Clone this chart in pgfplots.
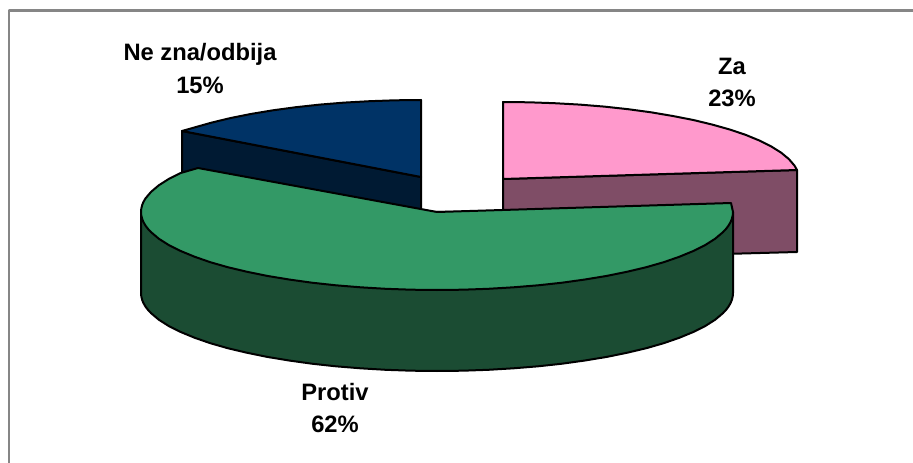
\documentclass[border=0pt]{standalone}
\usepackage{pgfplots}
\pgfplotsset{compat=1.18}
\usepackage{fontspec}
\setmainfont{Liberation Sans}
\definecolor{pinktop}{HTML}{FF99CC}
\definecolor{pinkside}{HTML}{7F4D66}
\definecolor{bluetop}{HTML}{003366}
\definecolor{blueside}{HTML}{001A33}
\definecolor{greentop}{HTML}{339966}
\definecolor{greenside}{HTML}{1B4C33}
\tikzset{lbl/.style={font=\fontsize{17.8}{20}\selectfont\bfseries, align=center, anchor=center, text=black}}
\begin{document}
\begin{tikzpicture}
\useasboundingbox (0,0) rectangle (684.75pt,347.25pt);
\begin{axis}[
  at={(0,0)}, anchor=south west,
  scale only axis, width=684.75pt, height=347.25pt,
  xmin=0, xmax=913, ymin=0, ymax=463, y dir=reverse,
  hide axis, clip=true,
  every axis plot/.append style={draw=black, line width=1.5pt, line join=round}
]
% frame
\addplot[draw=gray!95, line width=1.9pt] coordinates {(9,463) (9,10.5) (913,10.5)};
% Za: side and top
\addplot[fill=pinkside] coordinates {(503,179) (797,170) (797,252) (503,260)} -- cycle;
\addplot[fill=pinktop] coordinates {(503,179) (503,102) (528.8,102.3) (554.4,103.2) (579.6,104.6) (604.2,106.6) (628.1,109.2) (651,112.3) (672.8,116) (693.3,120) (712.3,124.6) (729.7,129.5) (745.5,134.8) (759.3,140.5) (771.3,146.5) (781.2,152.7) (788.9,159.1) (794.5,165.6) (797,170)} -- cycle;
% Ne zna/odbija: side and top
\addplot[fill=blueside] coordinates {(182,131) (421,177) (421,258) (182,212)} -- cycle;
\addplot[fill=bluetop] coordinates {(421,177) (421,100) (395.2,100.3) (369.6,101.2) (344.4,102.6) (319.8,104.6) (295.9,107.2) (273,110.3) (251.2,113.9) (230.7,118) (211.7,122.6) (194.3,127.5) (182,131)} -- cycle;
% Protiv: side and top
\addplot[fill=greenside] coordinates {(141,212) (141,293) (141.3,296.4) (142.1,299.8) (143.5,303.2) (145.5,306.6) (148,309.9) (151.1,313.2) (158.8,319.7) (168.7,326) (180.7,332) (194.5,337.7) (210.3,343.2) (227.7,348.2) (246.7,352.7) (267.2,356.9) (289,360.5) (311.9,363.7) (335.8,366.3) (360.4,368.3) (385.6,369.8) (411.2,370.7) (437,371) (462.8,370.7) (488.4,369.8) (513.6,368.3) (538.2,366.3) (562.1,363.7) (585,360.5) (606.8,356.9) (627.3,352.7) (646.3,348.2) (663.7,343.2) (679.5,337.7) (693.3,332) (705.3,326) (715.2,319.7) (722.9,313.2) (726,309.9) (728.5,306.6) (730.5,303.2) (731.9,299.8) (732.7,296.4) (733,293) (733,212)} -- cycle;
\addplot[fill=greentop] coordinates {(437,212) (198,168) (180.7,173) (168.7,179) (158.8,185.3) (151.1,191.8) (145.5,198.4) (143.5,201.8) (142.1,205.2) (141.3,208.6) (141,212) (141.3,215.4) (142.1,218.8) (143.5,222.2) (145.5,225.6) (148,228.9) (151.1,232.2) (158.8,238.7) (168.7,245) (180.7,251) (194.5,256.7) (210.3,262.2) (227.7,267.2) (246.7,271.7) (267.2,275.9) (289,279.5) (311.9,282.7) (335.8,285.3) (360.4,287.3) (385.6,288.8) (411.2,289.7) (437,290) (462.8,289.7) (488.4,288.8) (513.6,287.3) (538.2,285.3) (562.1,282.7) (585,279.5) (606.8,275.9) (627.3,271.7) (646.3,267.2) (663.7,262.2) (679.5,256.7) (693.3,251) (705.3,245) (715.2,238.7) (722.9,232.2) (726,228.9) (728.5,225.6) (730.5,222.2) (731.9,218.8) (732.7,215.4) (733,212) (731,203)} -- cycle;
% labels
\node[lbl] at (axis cs:200,54) {Ne zna/odbija};
\node[lbl] at (axis cs:200,85) {15\%};
\node[lbl] at (axis cs:732,66) {Za};
\node[lbl] at (axis cs:732,98) {23\%};
\node[lbl] at (axis cs:335,392) {Protiv};
\node[lbl] at (axis cs:335,424) {62\%};
\end{axis}
\end{tikzpicture}
\end{document}
